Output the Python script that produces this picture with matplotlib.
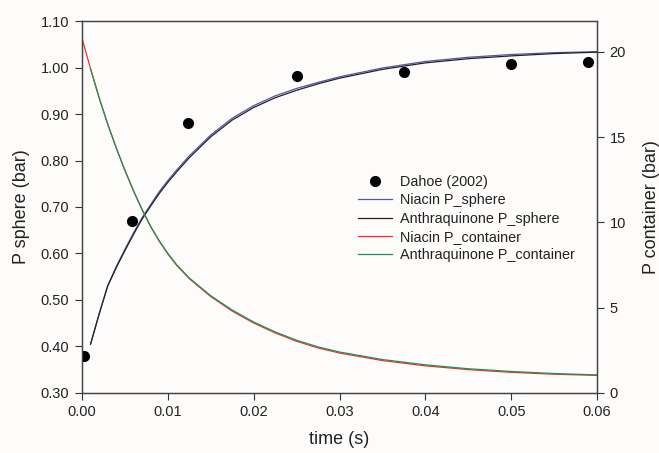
import matplotlib
matplotlib.use("Agg")
import matplotlib.pyplot as plt
from matplotlib.ticker import FormatStrFormatter

plt.rcParams['font.family'] = ['Liberation Sans', 'DejaVu Sans']

# experimental points (Dahoe 2002), P sphere in bar
t_exp = [0.0002, 0.0058, 0.0124, 0.025, 0.0375, 0.050, 0.0589]
p_exp = [0.38, 0.67, 0.88, 0.982, 0.991, 1.007, 1.011]

# simulated sphere pressure (bar)
t_sph = [0.001, 0.002, 0.003, 0.004, 0.005, 0.006, 0.007, 0.008, 0.009, 0.010,
         0.011, 0.0125, 0.015, 0.0175, 0.020, 0.0225, 0.025, 0.0275, 0.030,
         0.035, 0.040, 0.045, 0.050, 0.055, 0.060]
anthra_sph = [0.405, 0.470, 0.530, 0.570, 0.606, 0.641, 0.674, 0.702, 0.729, 0.753,
              0.775, 0.806, 0.851, 0.887, 0.914, 0.935, 0.951, 0.965, 0.977,
              0.996, 1.010, 1.019, 1.025, 1.030, 1.033]
niacin_sph = [0.405, 0.470, 0.531, 0.572, 0.609, 0.644, 0.677, 0.705, 0.733, 0.757,
              0.779, 0.810, 0.855, 0.891, 0.918, 0.939, 0.955, 0.968, 0.980,
              0.999, 1.013, 1.022, 1.028, 1.032, 1.034]

# simulated container pressure (bar)
t_cont = [0.0, 0.001, 0.002, 0.003, 0.004, 0.005, 0.006, 0.007, 0.008, 0.009,
          0.010, 0.011, 0.0125, 0.015, 0.0175, 0.020, 0.0225, 0.025, 0.0275, 0.030,
          0.035, 0.040, 0.045, 0.050, 0.055, 0.060]
niacin_cont = [20.8, 19.0, 17.3, 15.75, 14.35, 13.05, 11.85, 10.75, 9.75, 8.9,
               8.15, 7.5, 6.7, 5.65, 4.8, 4.1, 3.52, 3.03, 2.64, 2.34,
               1.9, 1.59, 1.37, 1.21, 1.1, 1.03]
anthra_cont = [None, 19.0, 17.3, 15.75, 14.35, 13.05, 11.85, 10.75, 9.76, 8.92,
               8.18, 7.53, 6.74, 5.7, 4.86, 4.16, 3.58, 3.09, 2.7, 2.4,
               1.96, 1.65, 1.42, 1.26, 1.14, 1.06]

bg = '#fdfcfb'
fig = plt.figure(figsize=(6.59, 4.53), dpi=100, facecolor=bg)
ax = fig.add_axes([0.1244, 0.1325, 0.7816, 0.8211], facecolor=bg)
ax2 = ax.twinx()

h1, = ax.plot(t_exp, p_exp, 'o', color='black', ms=7, label='Dahoe (2002)', zorder=5)
h2, = ax.plot(t_sph, niacin_sph, color='#5555aa', lw=0.9, label='Niacin P_sphere')
h3, = ax.plot(t_sph, anthra_sph, color='#222222', lw=0.9, label='Anthraquinone P_sphere')

tc = [t for t, v in zip(t_cont, anthra_cont) if v is not None]
vc = [v for v in anthra_cont if v is not None]
h4, = ax2.plot(t_cont, niacin_cont, color='#ff2a2a', lw=0.9, label='Niacin P_container')
h5, = ax2.plot(tc, vc, color='#18935a', lw=0.9, label='Anthraquinone P_container')

ax.set_xlim(0, 0.06)
ax.set_ylim(0.30, 1.10)
ax2.set_ylim(0, 21.8)
ax.set_xticks([0.00, 0.01, 0.02, 0.03, 0.04, 0.05, 0.06])
ax.set_yticks([0.30, 0.40, 0.50, 0.60, 0.70, 0.80, 0.90, 1.00, 1.10])
ax2.set_yticks([0, 5, 10, 15, 20])
ax.xaxis.set_major_formatter(FormatStrFormatter('%.2f'))
ax.yaxis.set_major_formatter(FormatStrFormatter('%.2f'))

for a in (ax, ax2):
    a.tick_params(direction='out', length=5, width=0.8, labelsize=10.5, colors='#333333',
                  labelcolor='#222222', pad=4)
    for s in a.spines.values():
        s.set_color('#444444')
        s.set_linewidth(0.9)

ax.set_xlabel('time (s)', fontsize=13, color='#222222', labelpad=8)
ax.set_ylabel('P sphere (bar)', fontsize=13, color='#222222', labelpad=8)
ax2.set_ylabel('P container (bar)', fontsize=13, color='#222222', labelpad=12)

leg = ax.legend(handles=[h1, h2, h3, h4, h5], loc='upper left',
                bbox_to_anchor=(0.536, 0.586), frameon=False, fontsize=10.4,
                handlelength=2.35, handletextpad=0.55, labelspacing=0.3,
                borderpad=0, borderaxespad=0)
for txt in leg.get_texts():
    txt.set_color('#222222')

fig.savefig('out.png', dpi=100, facecolor=bg)
